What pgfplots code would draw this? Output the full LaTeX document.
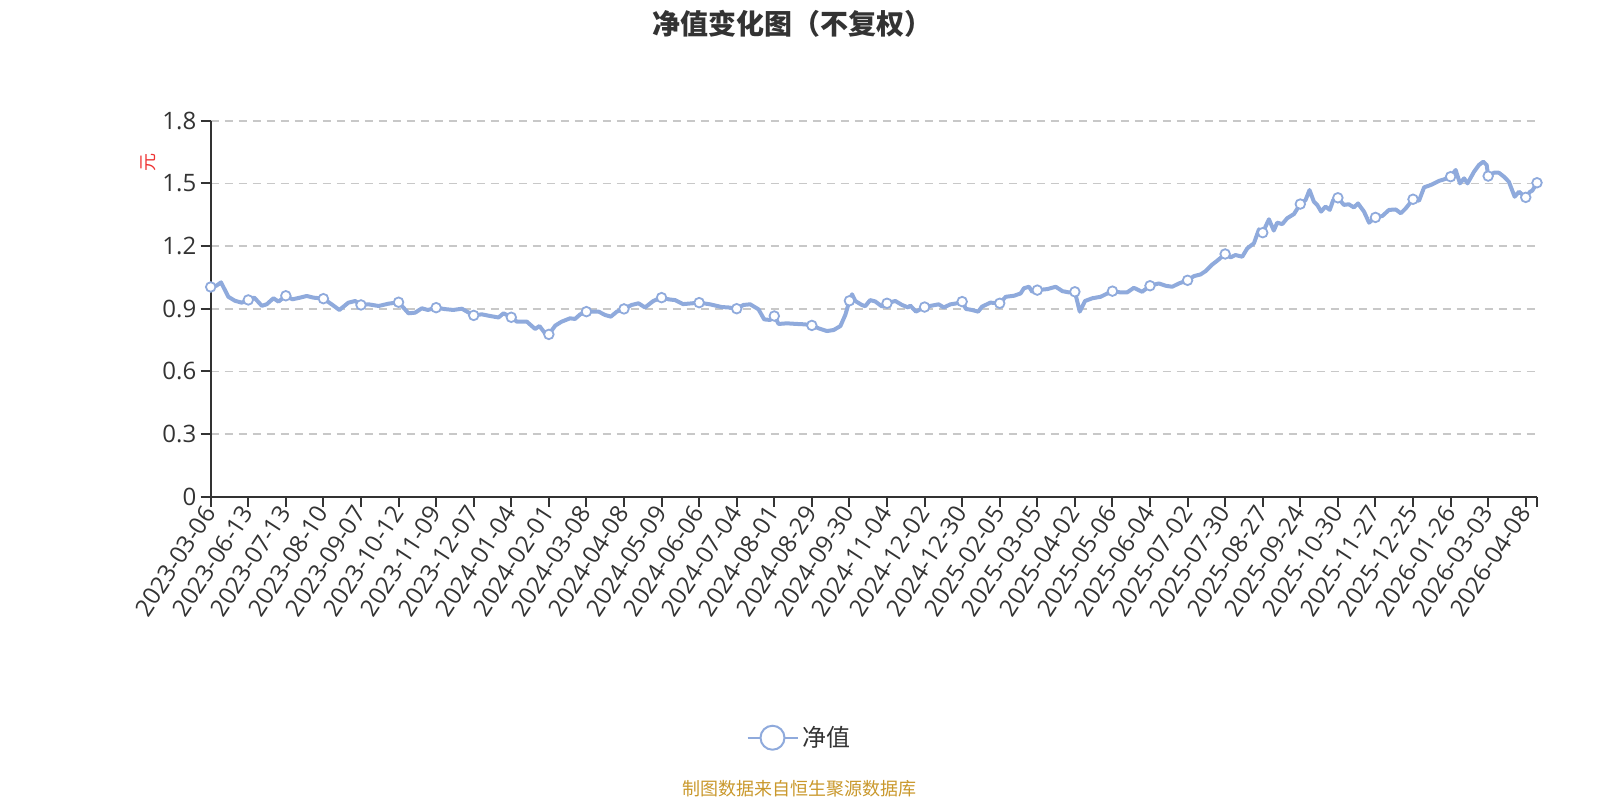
\documentclass[border=0pt]{standalone}
\usepackage{fontspec}
\setmainfont{Open Sans}
\newfontfamily\cjk{Noto Sans CJK SC}
\usepackage{pgfplots}
\pgfplotsset{compat=1.18}
\usepackage{pgfplotstable}

\definecolor{lineblue}{HTML}{8FAADC}
\definecolor{axisgray}{HTML}{333333}
\definecolor{gridgray}{HTML}{C8C8C8}
\definecolor{footgold}{HTML}{C9982C}
\definecolor{unitred}{HTML}{EE3333}

% x = trading-day index, y = net value (yuan)
\pgfplotstableread{
x y
0 1.004
3 1.010
5.5 1.026
9.4 0.957
12.9 0.938
16.5 0.929
20 0.942
23.2 0.953
27.2 0.914
29.8 0.921
33.4 0.950
36.1 0.934
40 0.962
43.5 0.945
47.6 0.953
51.1 0.961
54.7 0.953
60 0.948
64.4 0.921
68.5 0.894
73.3 0.929
76.9 0.937
80 0.918
84 0.921
89.4 0.913
94.6 0.924
100 0.931
105.3 0.878
108.8 0.881
112.4 0.902
115.6 0.894
120 0.905
124.8 0.898
129.2 0.894
133.7 0.900
137.2 0.882
140 0.868
144.3 0.873
148.8 0.865
153.2 0.858
155.9 0.878
160 0.859
163 0.838
168.3 0.838
172.7 0.803
175 0.817
178 0.782
180 0.777
183.4 0.819
186.8 0.838
191.3 0.854
193.9 0.851
196.7 0.873
200 0.886
206.5 0.886
209.9 0.870
213 0.862
216.2 0.886
220 0.899
224.1 0.918
227.7 0.926
231.2 0.906
235.6 0.937
240 0.953
243.7 0.945
247.3 0.941
251.4 0.922
255.3 0.925
260 0.929
265.8 0.921
272 0.908
275.6 0.906
280 0.900
283.6 0.918
287.2 0.921
291.6 0.897
294.6 0.849
297.8 0.846
300 0.865
302.3 0.827
306.7 0.830
312 0.827
316.5 0.825
320 0.820
323.6 0.806
328 0.793
331.6 0.798
335.2 0.817
337.8 0.870
340 0.938
341.4 0.969
343.1 0.937
346.6 0.918
348.4 0.912
351 0.941
353.7 0.935
357.4 0.910
360 0.926
364.4 0.937
368 0.918
371.2 0.906
372.4 0.915
375.4 0.886
380 0.908
384 0.915
387.5 0.921
390.2 0.906
393.8 0.921
397.3 0.926
400 0.934
402 0.899
405.2 0.894
408.5 0.886
410.6 0.910
415 0.929
420 0.926
423.2 0.957
427.6 0.962
431.1 0.973
432.9 0.998
435.6 1.005
437.3 0.981
440 0.989
445.4 0.994
449.8 1.005
453.4 0.984
456.9 0.978
460 0.981
461.4 0.930
462.6 0.886
465.4 0.937
469.3 0.950
473.7 0.957
477.3 0.973
480 0.984
484.3 0.978
487.8 0.978
491.4 1.000
495.8 0.981
500 1.010
504.7 1.021
508.3 1.010
511.8 1.005
515.4 1.021
520 1.036
523.4 1.056
526.9 1.064
529.6 1.080
533.2 1.112
535.8 1.130
540 1.162
542.9 1.146
545.5 1.157
549.1 1.149
551.8 1.189
555.3 1.213
558 1.280
560 1.264
563.3 1.328
565.9 1.274
567.7 1.312
570.4 1.305
573 1.333
576.6 1.353
580 1.401
582.8 1.420
584.9 1.468
587.2 1.413
589 1.397
591.1 1.365
593.4 1.389
595.7 1.373
597.5 1.420
600 1.431
603.2 1.397
605.8 1.400
608.5 1.385
610.7 1.404
613.9 1.365
616.6 1.312
620 1.337
623.7 1.344
627.2 1.373
630.8 1.375
633.5 1.357
636.1 1.380
640 1.424
643.2 1.417
645.9 1.481
649.4 1.492
653.9 1.512
656.5 1.519
660 1.532
662.7 1.564
665 1.500
667.2 1.524
669 1.500
672.5 1.556
675.1 1.588
677.4 1.604
679.2 1.588
680 1.535
683.1 1.551
685.7 1.551
688.4 1.532
691 1.508
694.1 1.436
696.4 1.460
700 1.433
702.3 1.460
703.5 1.465
706 1.503
}\navdata

% points where the chart shows a symbol
\pgfplotstableread{
x y
0 1.004
20 0.942
40 0.962
60 0.948
80 0.918
100 0.931
120 0.905
140 0.868
160 0.859
180 0.777
200 0.886
220 0.899
240 0.953
260 0.929
280 0.900
300 0.865
320 0.820
340 0.938
360 0.926
380 0.908
400 0.934
420 0.926
440 0.989
460 0.981
480 0.984
500 1.010
520 1.036
540 1.162
560 1.264
580 1.401
600 1.431
620 1.337
640 1.424
660 1.532
680 1.535
700 1.433
706 1.503
}\navmarks

\begin{document}
\begin{tikzpicture}
\path[use as bounding box] (0,0) rectangle (800pt,400pt);

\begin{axis}[
    at={(105.35pt,151.65pt)}, anchor=south west,
    scale only axis, width=663.15pt, height=188pt,
    xmin=0, xmax=706, ymin=0, ymax=1.8,
    clip=false,
    axis x line*=bottom, axis y line*=left,
    axis line style={axisgray, line width=1pt},
    tick align=outside,
    major tick length=5pt,
    tick style={axisgray, line width=1pt},
    xtick={0,20,...,700,706},
    xticklabels={2023-03-06,2023-06-13,2023-07-13,2023-08-10,2023-09-07,2023-10-12,2023-11-09,2023-12-07,2024-01-04,2024-02-01,2024-03-08,2024-04-08,2024-05-09,2024-06-06,2024-07-04,2024-08-01,2024-08-29,2024-09-30,2024-11-04,2024-12-02,2024-12-30,2025-02-05,2025-03-05,2025-04-02,2025-05-06,2025-06-04,2025-07-02,2025-07-30,2025-08-27,2025-09-24,2025-10-30,2025-11-27,2025-12-25,2026-01-26,2026-03-03,2026-04-08,{}},
    ytick={0,0.3,...,1.8},
    yticklabels={0,0.3,0.6,0.9,1.2,1.5,1.8},
    /pgf/number format/assume math mode=true,
    tick label style={font=\fontsize{12}{14}\selectfont, text=axisgray},
    xticklabel style={rotate=57, anchor=east, inner sep=1pt},
    yticklabel style={anchor=east, inner sep=2pt},
    ymajorgrids,
    major grid style={gridgray, line width=0.8pt, dash pattern=on 4pt off 3pt},
    ylabel={\cjk 元},
    ylabel style={at={(rel axis cs:-0.0469,0.889)}, anchor=center, rotate=0,
        font=\fontsize{9}{10}\selectfont, text=unitred},
    legend style={at={(rel axis cs:0.4447,-0.641)}, anchor=center,
        draw=none, fill=none, inner sep=0pt,
        nodes={inner sep=0pt, inner xsep=2pt},
        font=\cjk\fontsize{12}{14}\selectfont, text=axisgray},
    legend image code/.code={
        \draw[lineblue, line width=1pt] (0pt,0pt) -- (25pt,0pt);
        \draw[lineblue, line width=1pt, fill=white] (12.5pt,0pt) circle (6pt);
    },
]
\addplot[lineblue, line width=2pt, line join=round, forget plot] table {\navdata};
\addplot[only marks, mark=*, mark size=2.4pt,
    mark options={draw=lineblue, fill=white, line width=0.9pt}] table {\navmarks};
\addlegendentry{净值}
\end{axis}

\node[text=axisgray, font=\cjk\bfseries\fontsize{14}{16}\selectfont] at (396.25pt,388.25pt) {净值变化图（不复权）};
\node[text=footgold, font=\cjk\fontsize{9}{11}\selectfont] at (399.5pt,5.5pt) {制图数据来自恒生聚源数据库};
\end{tikzpicture}
\end{document}
